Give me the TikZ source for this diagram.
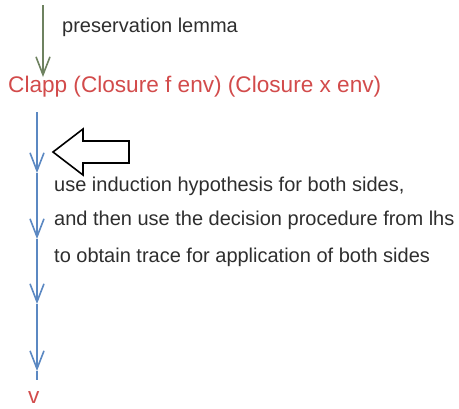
\documentclass[tikz,border=0pt]{standalone}
\usepackage{fontspec}
\setmainfont{Liberation Sans}
\usetikzlibrary{arrows.meta}
\definecolor{tgreen}{HTML}{6E8260}
\definecolor{tblue}{HTML}{5B88C2}
\definecolor{tred}{HTML}{D24B4B}
\definecolor{ttext}{HTML}{2E2E2E}
\tikzset{
  lbl/.style={anchor=base west,inner sep=0pt,text=ttext,font=\fontsize{20bp}{24bp}\selectfont},
  term/.style={anchor=base west,inner sep=0pt,text=tred,font=\fontsize{22.6bp}{27bp}\selectfont},
  barb/.style={-{Straight Barb[length=18bp,width=14bp,line width=1.6bp]}},
  gline/.style={draw=tgreen,line width=1.5bp,barb},
  bline/.style={draw=tblue,line width=1.5bp,barb},
  bigarrow/.style={draw=black,line width=1.6bp,fill=white,line join=miter}
}
\begin{document}
\begin{tikzpicture}[x=1bp,y=-1bp]
\useasboundingbox (0,0) rectangle (459,408);
\node[lbl] (lemma) at (62,32) {preservation lemma};
\node[term] (clapp) at (8,92) {Clapp (Closure f env) (Closure x env)};
\node[term] (v) at (28,403) {v};
\node[lbl] (t1) at (54,191) {use induction hypothesis for both sides,};
\node[lbl] (t2) at (54,225) {and then use the decision procedure from lhs};
\node[lbl] (t3) at (54,262) {to obtain trace for application of both sides};
\coordinate (g0) at (43,5);
\coordinate (g1) at (43,77);
\coordinate (b0) at (37,112);
\coordinate (b1) at (37,173);
\coordinate (b2) at (37,239);
\coordinate (b3) at (37,304);
\coordinate (b4) at (37,371);
\coordinate (b5) at (37,380);
\draw[gline] (g0) -- (g1);
\draw[bline] (b0) -- (b1);
\draw[bline] (b1) -- (b2);
\draw[bline] (b2) -- (b3);
\draw[bline] (b3) -- (b4);
\draw[draw=tblue,line width=1.5bp] (b4) -- (b5);
\draw[bigarrow] (53,152) -- (83,129) -- (83,141) -- (129,141) -- (129,163) -- (83,163) -- (83,175) -- cycle;
\end{tikzpicture}
\end{document}
